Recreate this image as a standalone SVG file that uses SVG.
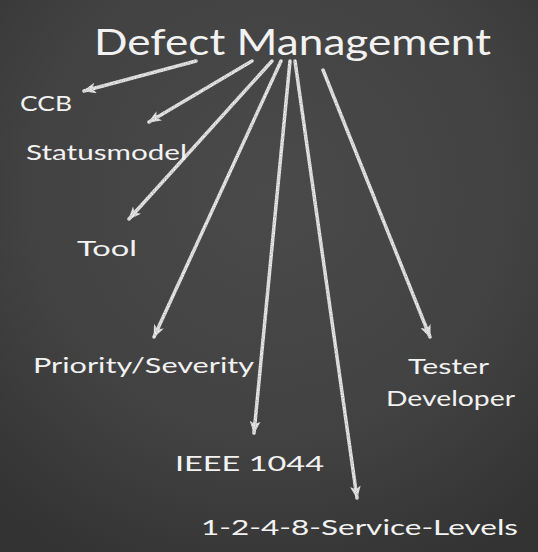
<svg xmlns="http://www.w3.org/2000/svg" width="538" height="552" viewBox="0 0 538 552">
<defs>
<radialGradient id="bg" cx="0.5" cy="0.35" r="0.75">
<stop offset="0" stop-color="#4a4a4a"/>
<stop offset="0.6" stop-color="#424242"/>
<stop offset="1" stop-color="#333333"/>
</radialGradient>
<marker id="ah" viewBox="0 0 12 10" refX="11" refY="5" markerWidth="13" markerHeight="11" markerUnits="userSpaceOnUse" orient="auto">
<path d="M0,0 L12,5 L0,10 L3,5 z" fill="#f4f4f4"/>
</marker>
<filter id="chalk" x="-5%" y="-5%" width="110%" height="110%">
<feTurbulence type="fractalNoise" baseFrequency="0.9" numOctaves="2" seed="3" result="n"/>
<feColorMatrix in="n" type="matrix" values="0 0 0 0 1  0 0 0 0 1  0 0 0 0 1  0 0 0 -0.6 1.15" result="m"/>
<feComposite in="SourceGraphic" in2="m" operator="in"/>
</filter>
</defs>
<style>
text{font-family:"Comic Sans MS","Lato","DejaVu Sans",sans-serif;fill:#f2f2f2}
.lbl{font-size:22px}
.title{font-size:36px}
.conn line{stroke:#f4f4f4;stroke-width:3.5;stroke-linecap:round;marker-end:url(#ah)}
</style>
<rect width="538" height="552" fill="url(#bg)"/>
<g id="connectors" class="conn" filter="url(#chalk)">
<line x1="196" y1="61" x2="84" y2="91"/>
<line x1="252" y1="61" x2="149" y2="122"/>
<line x1="272" y1="61" x2="129" y2="219"/>
<line x1="281" y1="61" x2="154" y2="337"/>
<line x1="290" y1="61" x2="254" y2="433"/>
<line x1="295" y1="61" x2="357" y2="498"/>
<line x1="323" y1="70" x2="430" y2="337"/>
</g>
<g id="defect-management"><text class="title" x="94" y="55" textLength="397" lengthAdjust="spacingAndGlyphs">Defect Management</text></g>
<g id="ccb"><text class="lbl" x="20" y="111" textLength="52" lengthAdjust="spacingAndGlyphs">CCB</text></g>
<g id="statusmodel"><text class="lbl" x="26" y="160" textLength="161" lengthAdjust="spacingAndGlyphs">Statusmodel</text></g>
<g id="tool"><text class="lbl" x="77" y="256" textLength="60" lengthAdjust="spacingAndGlyphs">Tool</text></g>
<g id="priority-severity"><text class="lbl" x="33" y="373" textLength="221" lengthAdjust="spacingAndGlyphs">Priority/Severity</text></g>
<g id="tester-developer"><text class="lbl" x="408" y="374" textLength="81" lengthAdjust="spacingAndGlyphs">Tester</text><text class="lbl" x="386" y="406" textLength="129" lengthAdjust="spacingAndGlyphs">Developer</text></g>
<g id="ieee-1044"><text class="lbl" x="175" y="471" textLength="149" lengthAdjust="spacingAndGlyphs">IEEE 1044</text></g>
<g id="service-levels"><text class="lbl" x="201" y="535" textLength="317" lengthAdjust="spacingAndGlyphs">1-2-4-8-Service-Levels</text></g>
</svg>
